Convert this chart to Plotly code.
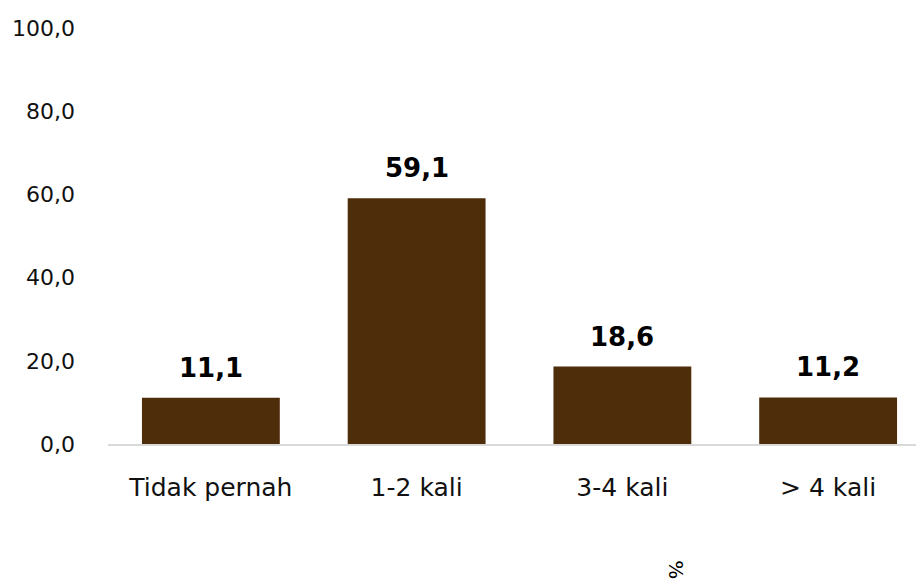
import plotly.graph_objects as go

categories = ["Tidak pernah", "1-2 kali", "3-4 kali", "> 4 kali"]
values = [11.1, 59.1, 18.6, 11.2]
y_ticks = [0, 20, 40, 60, 80, 100]

FONT = "DejaVu Sans, Poppins, sans-serif"
BAR = "#4E2D0B"

fig = go.Figure()
fig.add_trace(go.Bar(
    x=categories, y=values, marker=dict(color=BAR, line=dict(width=0)),
    width=0.67, hoverinfo="skip"
))

for c, v in zip(categories, values):
    fig.add_annotation(
        x=c, y=v, text="<b>%s</b>" % f"{v:.1f}".replace(".", ","),
        showarrow=False, yanchor="bottom", yshift=13,
        font=dict(family=FONT, size=26, color="#000000"),
    )

fig.add_annotation(
    x=0.714, y=-0.33, xref="paper", yref="paper", text="%",
    showarrow=False, textangle=90, font=dict(family=FONT, size=20, color="#000000"),
)

# page body has an 8px margin, so the figure is sized to fill the rest of the window
fig.update_layout(
    width=916, height=572,
    margin=dict(l=100, r=0, t=20, b=136),
    paper_bgcolor="#ffffff", plot_bgcolor="#ffffff",
    separators=",.",
    showlegend=False,
    font=dict(family=FONT, color="#000000"),
)
fig.update_xaxes(
    range=[-0.5, 3.466], showgrid=False, showline=True, linecolor="#d9d9d9", linewidth=1.5,
    ticks="", tickfont=dict(family=FONT, size=25, color="#111111"), ticklabelstandoff=20,
)
fig.update_yaxes(
    range=[0, 100], tickvals=y_ticks, tickformat=".1f", showgrid=False, zeroline=False,
    showline=False, ticks="", tickfont=dict(family=FONT, size=22, color="#111111"),
    ticklabelstandoff=32,
)

fig.write_html("out.html")
